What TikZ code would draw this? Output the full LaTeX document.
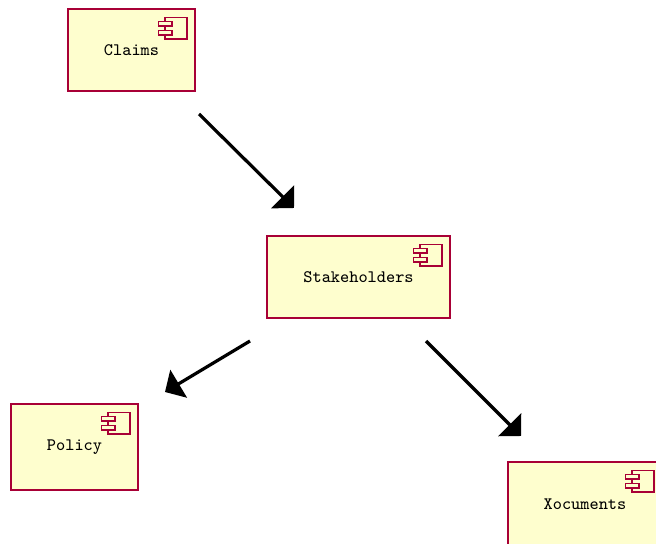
\documentclass[tikz,border=0pt]{standalone}
\usetikzlibrary{arrows.meta}
\definecolor{compline}{HTML}{A80036}
\definecolor{compfill}{HTML}{FEFECE}
\tikzset{
  comp/.style={draw=compline, fill=compfill, line width=.55pt, outer sep=0pt, inner sep=0pt, font=\fontsize{8.75}{10}\selectfont\ttfamily},
  icon/.style={draw=compline, fill=compfill, line width=.6pt},
  link/.style={line width=1.6pt, -{Triangle[length=8pt,width=16pt]}}
}
\begin{document}
\begin{tikzpicture}[x=.5pt,y=-.5pt]
\useasboundingbox (0,0) rectangle (656,544);
\node[comp, minimum width=63.5pt, minimum height=41pt] (claims) at (131.5,50){Claims};
\node[comp, minimum width=91.5pt, minimum height=41pt] (stake) at (358.5,277){Stakeholders};
\node[comp, minimum width=63.5pt, minimum height=43pt] (policy) at (74.5,447){Policy};
\node[comp, minimum width=77pt, minimum height=42pt] (xoc) at (585,504){Xocuments};
\foreach \n in {claims,stake,policy,xoc}{
  \draw[icon] ([shift={(-30,8.5)}]\n.north east) rectangle ([shift={(-8,30)}]\n.north east);
  \draw[icon] ([shift={(-36.5,12.5)}]\n.north east) rectangle ([shift={(-23,17)}]\n.north east);
  \draw[icon] ([shift={(-36.5,21.5)}]\n.north east) rectangle ([shift={(-23,26)}]\n.north east);
}
\draw[link] ([shift={(4,23)}]claims.south east) -- ([shift={(27,-28)}]stake.north west);
\draw[link] ([shift={(-17,23)}]stake.south west) -- ([shift={(27,-12)}]policy.north east);
\draw[link] ([shift={(-24,23)}]stake.south east) -- ([shift={(13,-26)}]xoc.north west);
\end{tikzpicture}
\end{document}
